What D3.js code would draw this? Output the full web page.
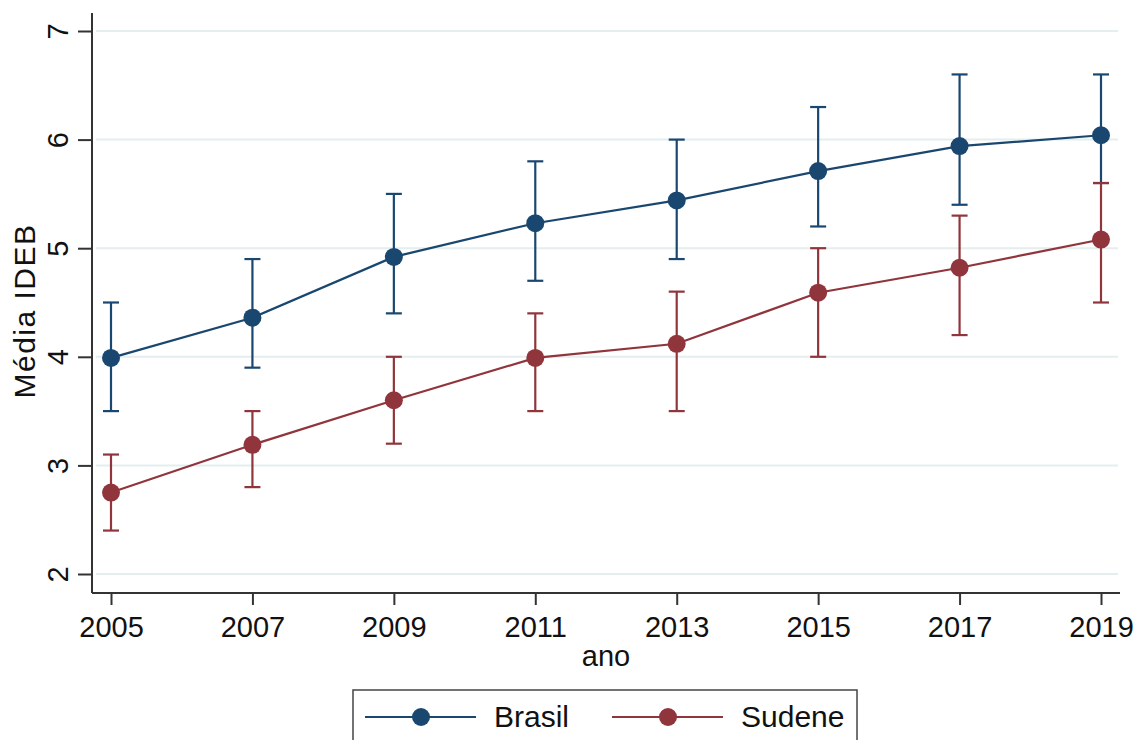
<!DOCTYPE html>
<html>
<head>
<meta charset="utf-8">
<script src="https://cdn.jsdelivr.net/npm/d3@7"></script>
<style>
  html, body { margin: 0; padding: 0; background: #fff; }
  svg { display: block; font-family: "Liberation Sans", Arial, sans-serif; }
</style>
</head>
<body>
<div id="chart-container"></div>
<script>
// Média IDEB por ano — Brasil x Sudene (com intervalos)
const years = [2005, 2007, 2009, 2011, 2013, 2015, 2017, 2019];
const brasilMean = [3.99, 4.36, 4.92, 5.23, 5.44, 5.71, 5.94, 6.04];
const brasilLow  = [3.5, 3.9, 4.4, 4.7, 4.9, 5.2, 5.4, 5.6];
const brasilHigh = [4.5, 4.9, 5.5, 5.8, 6.0, 6.3, 6.6, 6.6];
const sudeneMean = [2.75, 3.19, 3.60, 3.99, 4.12, 4.59, 4.82, 5.08];
const sudeneLow  = [2.4, 2.8, 3.2, 3.5, 3.5, 4.0, 4.2, 4.5];
const sudeneHigh = [3.1, 3.5, 4.0, 4.4, 4.6, 5.0, 5.3, 5.6];
const yTicks = [2, 3, 4, 5, 6, 7];
const seriesNames = ["Brasil", "Sudene"];
const colors = ["#1a476f", "#90353b"];

const width = 1137, height = 740;
const container = d3.select("#chart-container");
container.html("");

const svg = container.append("svg")
  .attr("width", width)
  .attr("height", height);

// vùng vẽ
const plot = { left: 92, right: 1120, top: 13, bottom: 593 };

const x = d3.scaleLinear().domain([2005, 2019]).range([111, 1101]);
const y = d3.scaleLinear().domain([2, 7]).range([574, 31]);

const series = seriesNames.map((name, i) => {
  const m = i === 0 ? brasilMean : sudeneMean;
  const lo = i === 0 ? brasilLow : sudeneLow;
  const hi = i === 0 ? brasilHigh : sudeneHigh;
  return {
    name, color: colors[i],
    values: years.map((yr, j) => ({ yr, m: m[j], lo: lo[j], hi: hi[j] }))
  };
});

// gridlines
svg.append("g")
  .selectAll("line")
  .data(yTicks)
  .join("line")
  .attr("x1", plot.left + 4)
  .attr("x2", plot.right - 2)
  .attr("y1", d => y(d))
  .attr("y2", d => y(d))
  .attr("stroke", "#e4eeef")
  .attr("stroke-width", 2);

// trục Y
const yAxis = svg.append("g")
  .attr("transform", `translate(${plot.left},0)`)
  .call(d3.axisLeft(y).tickValues(yTicks).tickSize(14).tickSizeOuter(0).tickFormat(d3.format("d")));
yAxis.select(".domain").attr("d", `M0,${plot.top}V${plot.bottom}`).attr("stroke", "#333").attr("stroke-width", 2);
yAxis.selectAll(".tick line").attr("stroke", "#333").attr("stroke-width", 2);
yAxis.selectAll(".tick text")
  .attr("x", null).attr("dy", null)
  .attr("transform", "translate(-24,0) rotate(-90)")
  .attr("text-anchor", "middle")
  .attr("fill", "#111")
  .style("font-size", "29px");

// trục X
const xAxis = svg.append("g")
  .attr("transform", `translate(0,${plot.bottom})`)
  .call(d3.axisBottom(x).tickValues(years).tickSize(12).tickSizeOuter(0).tickFormat(d3.format("d")));
xAxis.select(".domain").attr("d", `M${plot.left},0H${plot.right}`).attr("stroke", "#333").attr("stroke-width", 2);
xAxis.selectAll(".tick line").attr("stroke", "#333").attr("stroke-width", 2);
xAxis.selectAll(".tick text")
  .attr("y", 44).attr("dy", null)
  .attr("fill", "#111")
  .style("font-size", "29px");

// nhãn trục
svg.append("text")
  .attr("x", x(2012))
  .attr("y", 666)
  .attr("text-anchor", "middle")
  .attr("fill", "#111")
  .style("font-size", "29px")
  .text("ano");

svg.append("text")
  .attr("transform", `translate(35,311) rotate(-90)`)
  .attr("text-anchor", "middle")
  .attr("fill", "#111")
  .style("font-size", "30px")
  .style("letter-spacing", "1.5px")
  .text("Média IDEB");

// series
const line = d3.line().x(d => x(d.yr)).y(d => y(d.m));
const capW = 8;

series.forEach(s => {
  const g = svg.append("g");
  const bars = g.selectAll("g.err").data(s.values).join("g").attr("class", "err")
    .attr("stroke", s.color).attr("stroke-width", 2.2);
  bars.append("line")
    .attr("x1", d => x(d.yr)).attr("x2", d => x(d.yr))
    .attr("y1", d => y(d.lo)).attr("y2", d => y(d.hi));
  bars.append("line")
    .attr("x1", d => x(d.yr) - capW).attr("x2", d => x(d.yr) + capW)
    .attr("y1", d => y(d.lo)).attr("y2", d => y(d.lo));
  bars.append("line")
    .attr("x1", d => x(d.yr) - capW).attr("x2", d => x(d.yr) + capW)
    .attr("y1", d => y(d.hi)).attr("y2", d => y(d.hi));

  g.append("path")
    .datum(s.values)
    .attr("d", line)
    .attr("fill", "none")
    .attr("stroke", s.color)
    .attr("stroke-width", 2.2);

  g.selectAll("circle").data(s.values).join("circle")
    .attr("cx", d => x(d.yr))
    .attr("cy", d => y(d.m))
    .attr("r", 9)
    .attr("fill", s.color);
});

// legend
const legend = svg.append("g");
legend.append("rect")
  .attr("x", 353).attr("y", 690)
  .attr("width", 504).attr("height", 70)
  .attr("fill", "#fff")
  .attr("stroke", "#444")
  .attr("stroke-width", 1.5);

const legendX = [365, 612];
seriesNames.forEach((name, i) => {
  const lx = legendX[i];
  legend.append("line")
    .attr("x1", lx).attr("x2", lx + 111)
    .attr("y1", 717).attr("y2", 717)
    .attr("stroke", colors[i]).attr("stroke-width", 2.2);
  legend.append("circle")
    .attr("cx", lx + 56).attr("cy", 717).attr("r", 9)
    .attr("fill", colors[i]);
  legend.append("text")
    .attr("x", lx + 129).attr("y", 727)
    .attr("fill", "#111")
    .style("font-size", "30px")
    .text(name);
});
</script>
</body>
</html>
